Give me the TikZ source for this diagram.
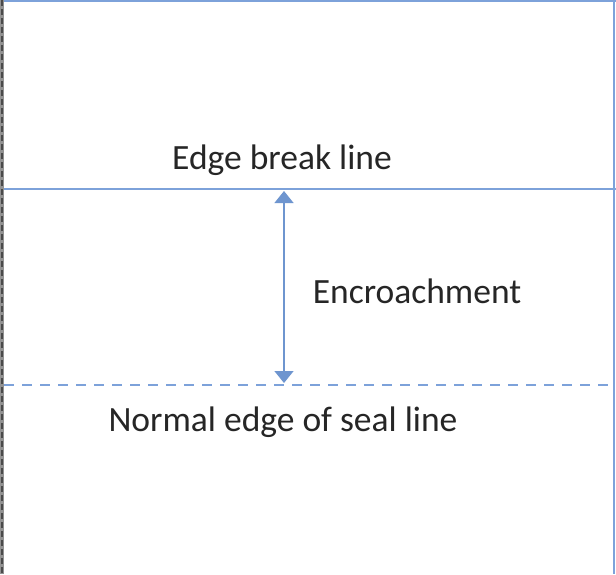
\documentclass[tikz,border=0pt]{standalone}
\usepackage{fontspec}
\setmainfont{Carlito}
\usetikzlibrary{arrows.meta}
\definecolor{lineblue}{HTML}{7DA2DA}
\definecolor{arrowblue}{HTML}{6E95CF}
\definecolor{edgegray}{HTML}{4A4A4A}
\begin{document}
\begin{tikzpicture}[x=1pt,y=-1pt,
  label text/.style={font=\fontsize{35.5}{40}\selectfont, text=black!85, inner sep=0pt},
  blueline/.style={lineblue, line width=1.4pt}]
\useasboundingbox (0,0) rectangle (616,574);
\fill[white] (0,0) rectangle (616,574);
% frame
\draw[lineblue, line width=1.6pt] (0,1) -- (616,1);
\draw[lineblue, line width=2pt] (614,0) -- (614,574);
\draw[edgegray!60, line width=4pt] (2,0) -- (2,574);
\draw[edgegray, line width=2.5pt, dash pattern=on 6pt off 3pt] (2,0) -- (2,574);
% boundaries
\coordinate (bl) at (4,189);
\coordinate (br) at (616,189);
\coordinate (nl) at (4,385);
\coordinate (nr) at (616,385);
\draw[blueline] (bl) -- (br);
\draw[blueline, dash pattern=on 10pt off 8pt] (nl) -- (nr);
% labels
\node[label text] (edge) at (282,160) {Edge break line};
\node[label text] (enc) at (417,291) {Encroachment};
\node[label text] (normal) at (283,422) {Normal edge of seal line};
% encroachment arrow
\coordinate (atop) at (284,191);
\coordinate (abot) at (284,383);
\draw[arrowblue, line width=1.4pt, {Triangle[width=19pt,length=12pt]}-{Triangle[width=19pt,length=12pt]}] (atop) -- (abot);
\end{tikzpicture}
\end{document}
